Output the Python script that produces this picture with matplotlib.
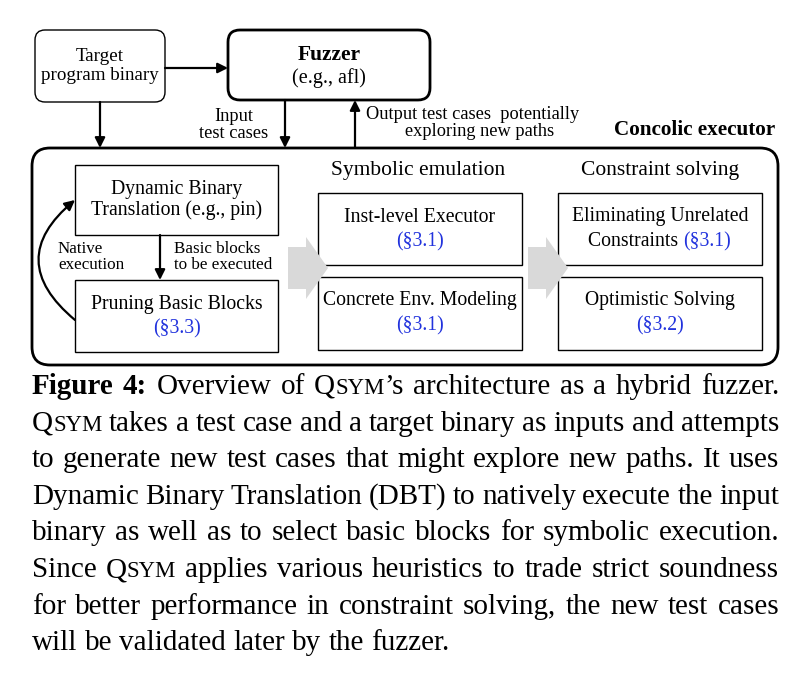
import matplotlib
matplotlib.use("Agg")
import matplotlib.pyplot as plt
from matplotlib.patches import FancyBboxPatch, FancyArrowPatch, Polygon

plt.rcParams['font.family'] = ['Liberation Serif', 'DejaVu Serif']

BLUE = '#2233dd'

# caixas do diagrama: (x0, y0, x1, y1, texto, referencia)
caixas = [
    (75, 165, 278, 235, "Dynamic Binary\nTranslation (e.g., pin)", None),
    (75, 280, 278, 352, "Pruning Basic Blocks", "(§3.3)"),
    (318, 193, 522, 265, "Inst-level Executor", "(§3.1)"),
    (318, 277, 522, 350, "Concrete Env. Modeling", "(§3.1)"),
    (558, 277, 762, 350, "Optimistic Solving", "(§3.2)"),
]

# legenda (cada linha: lista de palavras, palavra = lista de (texto, estilo))
SC = 'sc'
legenda = [
    [[("Figure", 'b')], [("4:", 'b')], "Overview", "of", [("Q", 'n'), ("SYM", SC), ("’s", 'n')],
     "architecture", "as", "a", "hybrid", "fuzzer."],
    [[("Q", 'n'), ("SYM", SC)]] + "takes a test case and a target binary as inputs and attempts".split(),
    "to generate new test cases that might explore new paths. It uses".split(),
    "Dynamic Binary Translation (DBT) to natively execute the input".split(),
    "binary as well as to select basic blocks for symbolic execution.".split(),
    ["Since", [("Q", 'n'), ("SYM", SC)]] + "applies various heuristics to trade strict soundness".split(),
    "for better performance in constraint solving, the new test cases".split(),
    "will be validated later by the fuzzer.".split(),
]
justificar = [True, True, True, True, True, True, True, False]

FD = 14.2   # fonte do diagrama
FL = 13.2   # fonte dos rotulos das setas

fig = plt.figure(figsize=(8.05, 6.74), dpi=100)
ax = fig.add_axes([0, 0, 1, 1])
ax.set_xlim(0, 805)
ax.set_ylim(674, 0)
ax.axis('off')


def caixa(x0, y0, x1, y1, lw=1.0, r=0):
    if r > 0:
        p = FancyBboxPatch((x0, y0), x1 - x0, y1 - y0, boxstyle="round,pad=0,rounding_size=%d" % r,
                           fc='white', ec='black', lw=lw)
    else:
        p = FancyBboxPatch((x0, y0), x1 - x0, y1 - y0, boxstyle="square,pad=0",
                           fc='white', ec='black', lw=lw)
    ax.add_patch(p)


def seta(x0, y0, x1, y1, **kw):
    a = FancyArrowPatch((x0, y0), (x1, y1), arrowstyle='-|>', mutation_scale=15,
                        color='black', lw=1.6, shrinkA=0, shrinkB=0, **kw)
    ax.add_patch(a)


# caixas de cima
caixa(35, 30, 165, 102, lw=1.0, r=10)
ax.text(100, 66, "Target\nprogram binary", ha='center', va='center', fontsize=13.7, linespacing=1.1)
caixa(228, 30, 430, 100, lw=2.0, r=12)
ax.text(329, 55, "Fuzzer", ha='center', va='center', fontsize=15.5, weight='bold')
ax.text(329, 78, "(e.g., afl)", ha='center', va='center', fontsize=14.5)

seta(165, 68, 228, 68)
seta(100, 102, 100, 148)
seta(285, 100, 285, 148)
seta(355, 148, 355, 100)
ax.text(268, 125, "Input\ntest cases", ha='right', va='center', fontsize=FL, linespacing=1.0, multialignment='center')
ax.text(366, 123, "Output test cases  potentially\n   exploring new paths", ha='left', va='center',
        fontsize=FL, linespacing=1.0, multialignment='center')

# caixa grande
caixa(32, 148, 778, 365, lw=2.0, r=18)
ax.text(775, 130, "Concolic executor", ha='right', va='center', fontsize=15.2, weight='bold')
ax.text(418, 171, "Symbolic emulation", ha='center', va='center', fontsize=15.5)
ax.text(660, 171, "Constraint solving", ha='center', va='center', fontsize=15.5)

for x0, y0, x1, y1, txt, ref in caixas:
    caixa(x0, y0, x1, y1, lw=1.0)
    cx = (x0 + x1) / 2
    if ref is None:
        ax.text(cx, (y0 + y1) / 2, txt, ha='center', va='center', fontsize=FD, linespacing=1.15)
    else:
        ax.text(cx, y0 + 24, txt, ha='center', va='center', fontsize=FD)
        ax.text(cx, y0 + 49, ref, ha='center', va='center', fontsize=FD, color=BLUE)

# caixa com texto misturado
caixa(558, 193, 762, 265, lw=1.0)
ax.text(660, 217, "Eliminating Unrelated", ha='center', va='center', fontsize=FD)
ax.text(683, 242, "Constraints ", ha='right', va='center', fontsize=FD)
ax.text(683, 242, "(§3.1)", ha='left', va='center', fontsize=FD, color=BLUE)

# setas internas
seta(160, 235, 160, 280)
ax.text(174, 257, "Basic blocks\nto be executed", ha='left', va='center', fontsize=FL * 0.93, linespacing=1.0)
curva = FancyArrowPatch((75, 320), (75, 200), connectionstyle="arc3,rad=-0.6", arrowstyle='-|>',
                        mutation_scale=15, color='black', lw=1.6, shrinkA=0, shrinkB=0)
ax.add_patch(curva)
ax.text(58, 257, "Native\nexecution", ha='left', va='center', fontsize=FL * 0.93, linespacing=1.0,
        bbox=dict(fc='white', ec='none', pad=0.5))

# setas cinzas
for xa in [288, 528]:
    ax.add_patch(Polygon([(xa, 247), (xa + 18, 247), (xa + 18, 237), (xa + 40, 268),
                          (xa + 18, 299), (xa + 18, 289), (xa, 289)], closed=True,
                         fc='#d9d9d9', ec='none'))

# legenda justificada
fig.canvas.draw()
renderer = fig.canvas.get_renderer()
FS = 21
esquerda, direita = 32, 779
base0, passo = 394, 36.6


def estilo(s):
    if s == 'b':
        return dict(fontsize=FS, weight='bold')
    if s == SC:
        return dict(fontsize=FS * 0.78)
    return dict(fontsize=FS)


def largura(t, s):
    tt = ax.text(0, 0, t, **estilo(s))
    bb = tt.get_window_extent(renderer)
    tt.remove()
    return bb.width


espaco = largura("a a", 'n') - 2 * largura("a", 'n')

for i, linha in enumerate(legenda):
    palavras = [[(w, 'n')] if isinstance(w, str) else w for w in linha]
    larguras = [sum(largura(t, s) for t, s in p) for p in palavras]
    total = sum(larguras)
    if justificar[i]:
        gap = (direita - esquerda - total) / (len(palavras) - 1)
    else:
        gap = espaco
    y = base0 + i * passo
    x = esquerda
    for p, lw_ in zip(palavras, larguras):
        xx = x
        for t, s in p:
            ax.text(xx, y, t, ha='left', va='baseline', **estilo(s))
            xx += largura(t, s)
        x += lw_ + gap

fig.savefig("out.png", dpi=100)
